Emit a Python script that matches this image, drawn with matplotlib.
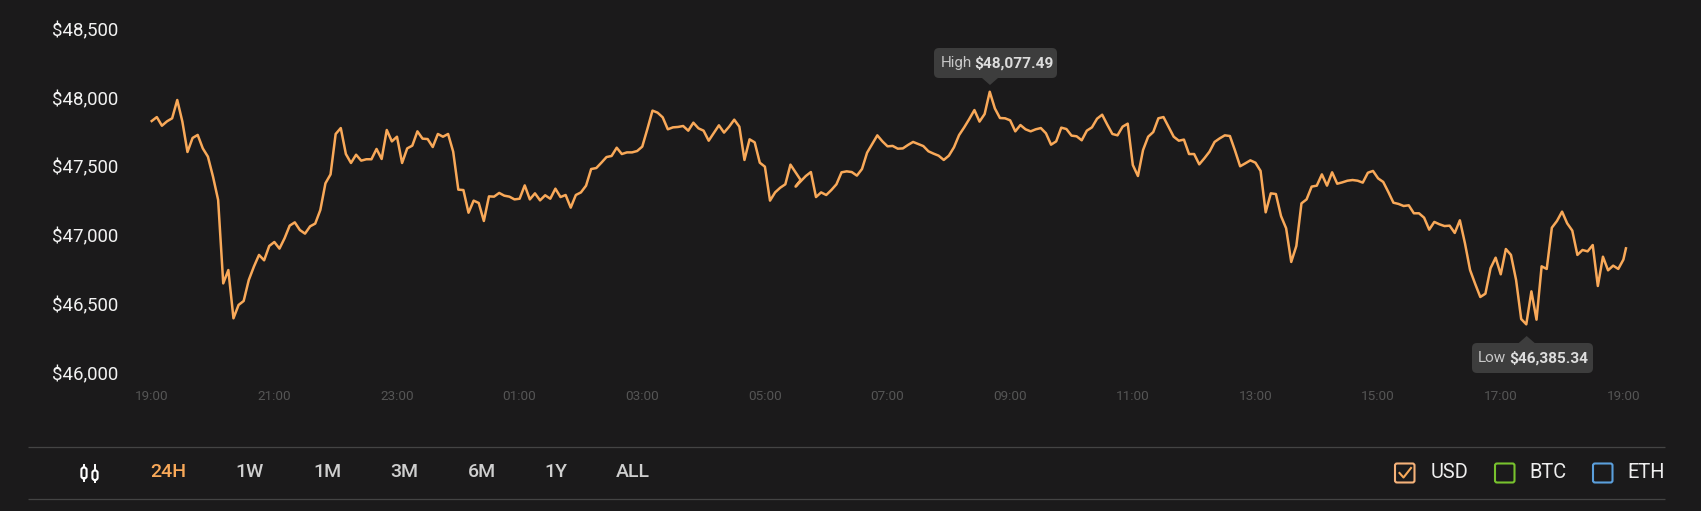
import numpy as np
import matplotlib
matplotlib.use("Agg")
import matplotlib.pyplot as plt
from matplotlib.patches import FancyBboxPatch, Polygon
from matplotlib.transforms import ScaledTranslation

plt.rcParams["font.family"] = ["Roboto", "DejaVu Sans"]

W, H = 1701, 511
BG = "#1b1a1b"
ORANGE = "#f9a959"

# 5 minute samples (two samples near 05:25 arrive out of order)
prices = [
    47864, 47893, 47830, 47862, 47884, 48017, 47860, 47639, 47741, 47763, 47665, 47605,
    47459, 47290, 46683, 46780, 46429, 46526, 46555, 46708, 46805, 46890, 46851, 46955,
    46984, 46936, 47011, 47103, 47127, 47071, 47045, 47098, 47118, 47217, 47411, 47476,
    47770, 47813, 47624, 47559, 47619, 47576, 47586, 47586, 47661, 47588, 47799, 47716,
    47750, 47559, 47665, 47685, 47789, 47736, 47733, 47675, 47770, 47750, 47770, 47641,
    47365, 47362, 47197, 47285, 47268, 47137, 47316, 47314, 47341, 47321, 47314, 47294,
    47299, 47396, 47294, 47338, 47287, 47324, 47299, 47372, 47311, 47326, 47234, 47326,
    47345, 47394, 47515, 47522, 47561, 47602, 47610, 47670, 47624, 47636, 47636, 47646,
    47678, 47806, 47940, 47925, 47891, 47804, 47818, 47821, 47828, 47794, 47852, 47811,
    47794, 47721, 47777, 47833, 47780, 47823, 47874, 47823, 47581, 47731, 47709, 47561,
    47532, 47285, 47345, 47379, 47404, 47547, 47435, 47387, 47464, 47493, 47311, 47345,
    47326, 47362, 47404, 47491, 47498, 47493, 47467, 47515, 47634, 47697, 47760, 47716,
    47680, 47683, 47663, 47665, 47690, 47712, 47697, 47682, 47644, 47627, 47612, 47581,
    47612, 47673, 47762, 47818, 47879, 47944, 47860, 47915, 48077, 47956, 47886, 47884,
    47869, 47789, 47835, 47804, 47789, 47804, 47813, 47775, 47692, 47716, 47816, 47806,
    47758, 47753, 47724, 47794, 47818, 47881, 47910, 47838, 47770, 47760, 47823, 47845,
    47544, 47464, 47653, 47750, 47784, 47884, 47893, 47821, 47750, 47721, 47729, 47624,
    47624, 47549, 47593, 47641, 47712, 47738, 47760, 47755, 47649, 47535, 47556, 47578,
    47561, 47501, 47200, 47338, 47333, 47173, 47084, 46839, 46955, 47265, 47294, 47387,
    47394, 47476, 47394, 47491, 47408, 47418, 47430, 47435, 47430, 47416, 47488, 47501,
    47447, 47421, 47348, 47270, 47261, 47246, 47251, 47193, 47193, 47161, 47074, 47130,
    47113, 47100, 47103, 47050, 47142, 46974, 46780, 46679, 46584, 46608, 46793, 46870,
    46749, 46933, 46890, 46708, 46424, 46385, 46625, 46419, 46807, 46788, 47088, 47137,
    47205, 47120, 47067, 46890, 46926, 46916, 46962, 46664, 46877, 46778, 46812, 46788,
    46856, 46938,
]
slots = list(range(126)) + [127, 126] + list(range(128, len(prices) - 1)) + [288.5]

y_ticks = [46000, 46500, 47000, 47500, 48000, 48500]
y_labels = ["$46,000", "$46,500", "$47,000", "$47,500", "$48,000", "$48,500"]
x_ticks = [0, 24, 48, 72, 96, 120, 144, 168, 192, 216, 240, 264, 288]
x_labels = ["19:00", "21:00", "23:00", "01:00", "03:00", "05:00", "07:00",
            "09:00", "11:00", "13:00", "15:00", "17:00", "19:00"]
ranges = ["24H", "1W", "1M", "3M", "6M", "1Y", "ALL"]
currencies = ["USD", "BTC", "ETH"]

fig = plt.figure(figsize=(W / 100, H / 100), dpi=100, facecolor=BG)

# pixel overlay for the button bar and tooltips
ui = fig.add_axes([0, 0, 1, 1])
ui.set_xlim(0, W)
ui.set_ylim(H, 0)
ui.axis("off")

# price chart, scaled so that the axis lands where it does in the screenshot
left, right, top, bottom = 124, 1660, 20, 385
ax = fig.add_axes([left / W, 1 - bottom / H, (right - left) / W, (bottom - top) / H])
ax.patch.set_alpha(0)
px_per_slot = 5.11
ax.set_xlim((left - 151.7) / px_per_slot, (right - 151.7) / px_per_slot)
price_at = lambda y: 48077.49 - (y - 91.7) * 7.275
ax.set_ylim(price_at(bottom), price_at(top))
ax.plot(slots, prices, color=ORANGE, lw=1.8, solid_joinstyle="round")
for s in ax.spines.values():
    s.set_visible(False)
ax.set_yticks(y_ticks, y_labels)
ax.set_xticks(x_ticks, x_labels)
ax.tick_params(axis="y", length=0, pad=4, labelsize=13.4, labelcolor="#f2f2f2")
ax.tick_params(axis="x", length=0, pad=3.5, labelsize=9.7, labelcolor="#555555")
up = ScaledTranslation(0, 4.3 / 100, fig.dpi_scale_trans)
for lab in ax.get_yticklabels():
    lab.set_transform(lab.get_transform() + up)

# divider lines
for y in (447, 499):
    ui.plot([28, 1665], [y, y], color="#444444", lw=0.9, solid_capstyle="butt")

# candlestick icon
for cx, y0, y1, b0, b1 in ((84, 465.5, 481.5, 467.5, 478.5), (95, 465, 482.5, 470.5, 480)):
    ui.plot([cx, cx], [y0, b0], color="white", lw=1.4)
    ui.plot([cx, cx], [b1, y1], color="white", lw=1.4)
    ui.add_patch(FancyBboxPatch((cx - 2.6, b0), 5.2, b1 - b0, boxstyle="round,pad=0,rounding_size=2.4",
                                fc="none", ec="white", lw=1.5))

# range buttons
range_x = [168.5, 249.5, 327, 404.5, 481.5, 555.5, 633]
for name, x in zip(ranges, range_x):
    ui.text(x, 472, name, ha="center", va="center", fontsize=14, fontweight="medium",
            color=ORANGE if name == "24H" else "#cfcfcf")

# currency toggles
box_x = [1395, 1495, 1593]
text_x = [1430.5, 1529.5, 1627.5]
box_col = ["#f5b27a", "#78c22e", "#5b9fdc"]
for name, bx, tx, col in zip(currencies, box_x, text_x, box_col):
    ui.add_patch(FancyBboxPatch((bx, 463.5), 19.5, 19, boxstyle="round,pad=0,rounding_size=2",
                                fc="none", ec=col, lw=1.5))
    ui.text(tx, 472.5, name, ha="left", va="center", fontsize=14.4, color="#eeeeee")
ui.plot([1399.5, 1403.5, 1411], [473, 477.5, 468], color=ORANGE, lw=1.5)


def tooltip(x0, x1, y0, y1, tip_x, tip_y, base_y, word, value, word_x, value_x):
    ui.add_patch(FancyBboxPatch((x0, y0), x1 - x0, y1 - y0, boxstyle="round,pad=0,rounding_size=5",
                                fc="#3d3d3d", ec="none"))
    ui.add_patch(Polygon([(tip_x - 8, base_y), (tip_x, tip_y), (tip_x + 8, base_y)], fc="#3d3d3d", ec="none"))
    yc = (y0 + y1) / 2 + 0.5
    ui.text(word_x, yc, word, ha="left", va="center", fontsize=11, color="#c8c8c8")
    ui.text(value_x, yc, value, ha="left", va="center", fontsize=11.1, fontweight="bold", color="#dddddd")


tooltip(934, 1057, 48, 78, 990, 85, 78, "High", "$48,077.49", 940.7, 974.5)
tooltip(1472, 1593, 343, 373, 1526.7, 336, 343, "Low", "$46,385.34", 1478, 1509.5)

fig.savefig("out.png", dpi=100, facecolor=BG)
